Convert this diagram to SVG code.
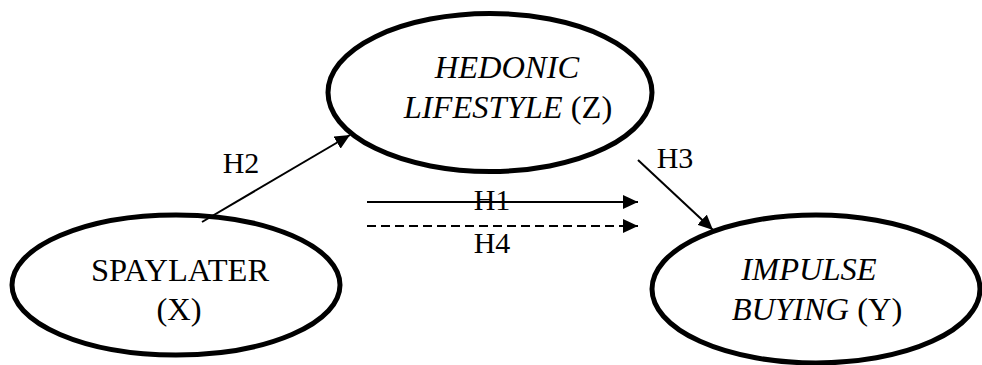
<svg xmlns="http://www.w3.org/2000/svg" width="982" height="365" viewBox="0 0 982 365">
<style>
.node{fill:#fff;stroke:#000;stroke-width:5}
.lbl{font-family:"Liberation Serif","Times New Roman",serif;font-size:30px;fill:#000;text-anchor:middle}
.nl{font-size:32.5px}
.it{font-style:italic}
.edge{stroke:#000;stroke-width:2;fill:none}
.dash{stroke-dasharray:9 5}
</style>
<defs>
<marker id="ah" markerUnits="userSpaceOnUse" markerWidth="16" markerHeight="14" refX="15" refY="7" orient="auto">
<path d="M0,0 L15,7 L0,14 Z" fill="#000"/>
</marker>
</defs>
<g id="node-hedonic">
<ellipse class="node" cx="490" cy="92.5" rx="162" ry="79"/>
<text class="lbl nl" x="507" y="78"><tspan class="it">HEDONIC</tspan></text>
<text class="lbl nl" x="508" y="118"><tspan class="it">LIFESTYLE</tspan> (Z)</text>
</g>
<g id="node-spaylater">
<ellipse class="node" cx="176" cy="285" rx="164" ry="70"/>
<text class="lbl nl" x="180" y="281">SPAYLATER</text>
<text class="lbl nl" x="179" y="320">(X)</text>
</g>
<g id="node-impulse">
<ellipse class="node" cx="816" cy="289" rx="164" ry="74"/>
<text class="lbl nl" x="809" y="280"><tspan class="it">IMPULSE</tspan></text>
<text class="lbl nl" x="817" y="320"><tspan class="it">BUYING</tspan> (Y)</text>
</g>
<g id="connectors">
<line class="edge" x1="202" y1="222" x2="350" y2="135" marker-end="url(#ah)"/>
<text class="lbl" x="241" y="173">H2</text>
<line class="edge" x1="367" y1="202" x2="638" y2="202" marker-end="url(#ah)"/>
<text class="lbl" x="492" y="210">H1</text>
<line class="edge dash" x1="367" y1="226" x2="638" y2="226" marker-end="url(#ah)"/>
<text class="lbl" x="492" y="253">H4</text>
<line class="edge" x1="638" y1="160" x2="713" y2="230" marker-end="url(#ah)"/>
<text class="lbl" x="675" y="168">H3</text>
</g>
</svg>
